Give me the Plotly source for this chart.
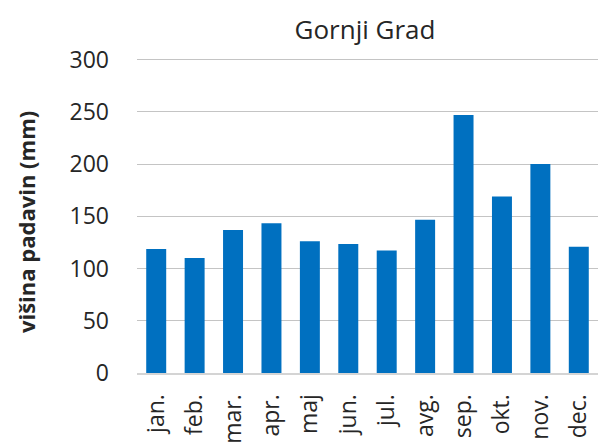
import plotly.graph_objects as go

months = ["jan.", "feb.", "mar.", "apr.", "maj", "jun.", "jul.", "avg.", "sep.", "okt.", "nov.", "dec."]
precip = [118.6, 110, 136.9, 143.3, 126, 123.4, 117.3, 146.8, 247, 168.9, 200, 120.8]
y_ticks = [0, 50, 100, 150, 200, 250, 300]

FONT = "Open Sans"
TXT = "#262626"
fig = go.Figure(go.Bar(x=months, y=precip, marker=dict(color="#0070C0", line=dict(width=0)),
                       width=0.52))

fig.update_layout(
    width=598, height=442,
    margin=dict(l=137, r=0, t=58.4, b=69, autoexpand=False),
    paper_bgcolor="white", plot_bgcolor="white",
    showlegend=False,
    title=dict(text="Gornji Grad", x=365 / 598, xanchor="center", y=1 - 30 / 442, yanchor="middle",
               font=dict(family=FONT, size=26, color=TXT)),
    font=dict(family=FONT, color=TXT),
)
fig.update_xaxes(tickangle=-90, tickfont=dict(size=23, color=TXT), showgrid=False,
                 ticks="", showline=True, linecolor="#d4d4d4", linewidth=2, automargin=False,
                 ticklabelstandoff=10)
fig.update_yaxes(range=[0, 301.5], tickvals=y_ticks, tickfont=dict(size=23, color=TXT),
                 showgrid=True, gridcolor="#c4c4c4", gridwidth=1.3, zeroline=False, ticks="",
                 showline=False, automargin=False, ticklabelstandoff=27)
fig.add_annotation(text="<b>višina padavin (mm)</b>", xref="paper", yref="paper",
                   x=(26 - 137) / 461, y=(373 - 223) / 313, textangle=-90, showarrow=False,
                   font=dict(family=FONT, size=22, color=TXT), xanchor="center", yanchor="middle")

fig.write_html("out.html", post_script="document.body.style.margin='0';",
               config={"displayModeBar": False})
